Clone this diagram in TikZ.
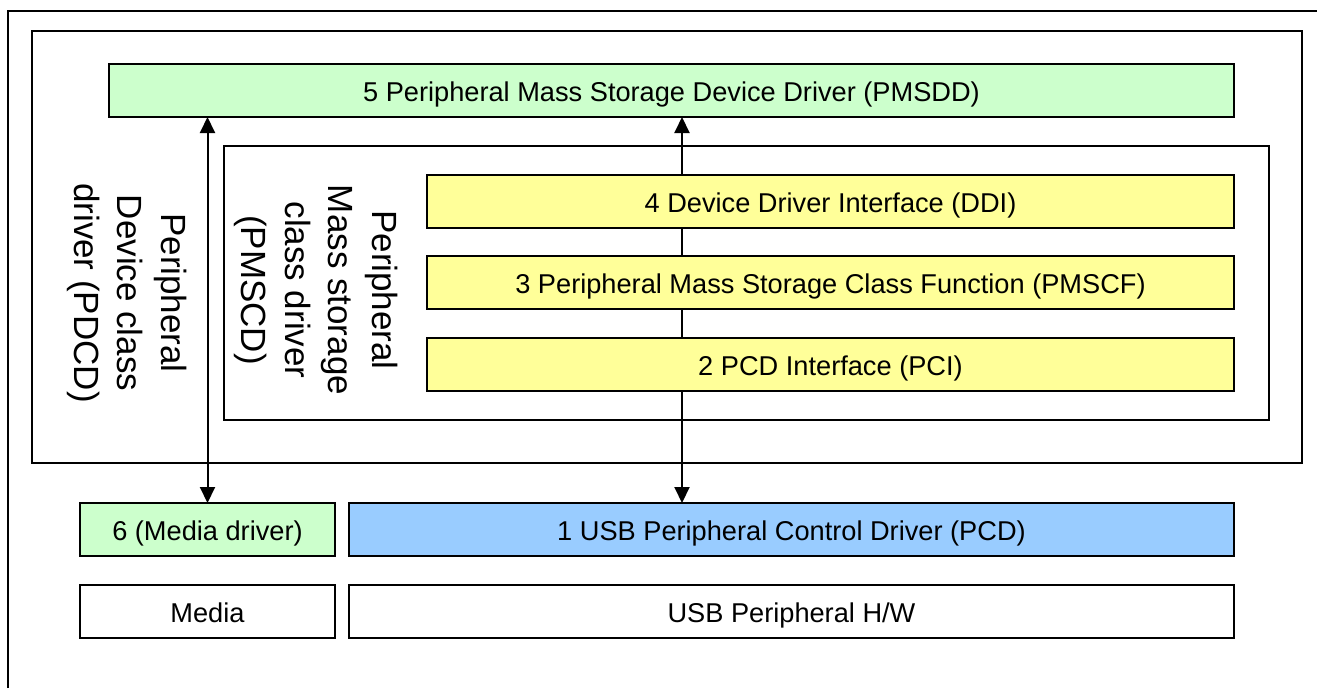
\documentclass[tikz,border=0pt]{standalone}
\usepackage{fontspec}
\setmainfont{Liberation Sans}
\usetikzlibrary{arrows.meta}

\definecolor{boxgreen}{HTML}{CCFFCC}
\definecolor{boxyellow}{HTML}{FFFF99}
\definecolor{boxblue}{HTML}{99CCFF}

\tikzset{
    layer/.style={draw, line width=2pt, inner sep=0pt, outer sep=0pt,
        minimum height=53pt, text height=24pt, text depth=2pt,
        font=\fontsize{27.2}{32}\selectfont},
    frame/.style={draw, line width=2pt, inner sep=0pt, outer sep=0pt},
    sidelabel/.style={rotate=-90, align=center, font=\fontsize{35}{43.5}\selectfont},
    link/.style={line width=2pt},
}

\begin{document}
\begin{tikzpicture}[x=1pt, y=-1pt]

    \useasboundingbox (0, 0) rectangle (1317, 688);
    \draw[line width=2pt] (8, 688) -- (8, 11) -- (1317, 11);

    % frames
    \node[frame, minimum width=1270pt, minimum height=432pt] (pdcd) at (667, 247) {};
    \node[frame, minimum width=1045pt, minimum height=274pt] (pmscd) at (746.5, 283) {};
    \node[sidelabel] (pdcdlbl) at (127, 293) {Peripheral\\Device class\\driver (PDCD)};
    \node[sidelabel] (pmscdlbl) at (316, 290) {Peripheral\\Mass storage\\class driver\\(PMSCD)};

    % layers
    \node[layer, fill=boxgreen, minimum width=1125pt] (pmsdd) at (671.5, 90.5) {5 Peripheral Mass Storage Device Driver (PMSDD)};
    \node[layer, fill=boxyellow, minimum width=807pt] (ddi) at (830.5, 201.5) {4 Device Driver Interface (DDI)};
    \node[layer, fill=boxyellow, minimum width=807pt] (pmscf) at (830.5, 282.5) {3 Peripheral Mass Storage Class Function (PMSCF)};
    \node[layer, fill=boxyellow, minimum width=807pt] (pci) at (830.5, 364.5) {2 PCD Interface (PCI)};

    \node[layer, fill=boxgreen, minimum width=255pt] (mdrv) at (207.5, 529.5) {6 (Media driver)};
    \node[layer, fill=boxblue, minimum width=885pt] (pcd) at (791.5, 529.5) {1 USB Peripheral Control Driver (PCD)};
    \node[layer, minimum width=255pt] (media) at (207.5, 611.5) {Media};
    \node[layer, minimum width=885pt] (hw) at (791.5, 611.5) {USB Peripheral H/W};

    % connectors
    \coordinate (bus) at (682, 0);
    \draw[link, {Triangle[length=16pt,width=15pt]}-{Triangle[length=16pt,width=15pt]}] (mdrv.north) -- (mdrv.north |- pmsdd.south);
    \draw[link, -{Triangle[length=16pt,width=15pt]}] (ddi.north -| bus) -- (pmsdd.south -| bus);
    \draw[link] (ddi.south -| bus) -- (pmscf.north -| bus);
    \draw[link] (pmscf.south -| bus) -- (pci.north -| bus);
    \draw[link, -{Triangle[length=16pt,width=15pt]}] (pci.south -| bus) -- (pcd.north -| bus);

\end{tikzpicture}
\end{document}
